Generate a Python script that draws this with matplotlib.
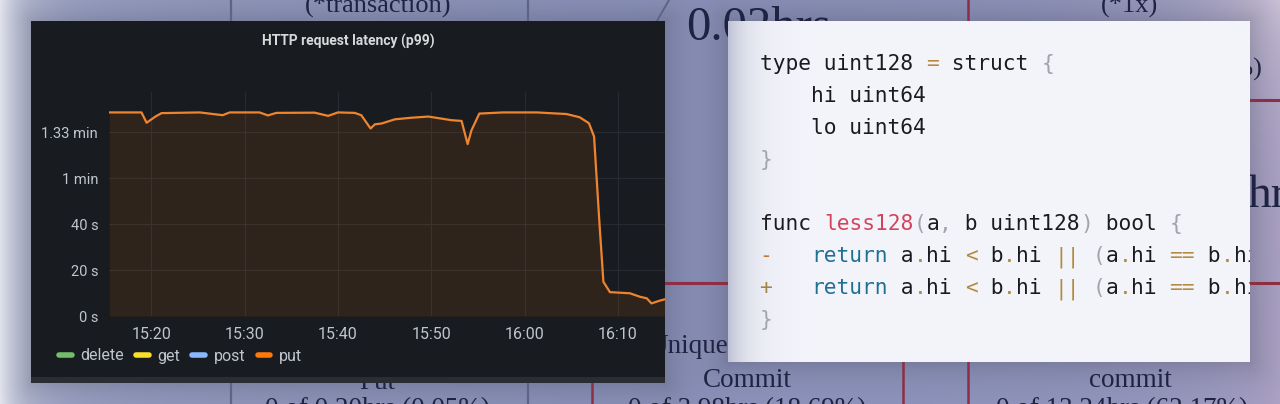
import numpy as np
import matplotlib
matplotlib.use("Agg")
import matplotlib.pyplot as plt
from matplotlib.lines import Line2D
from matplotlib.patches import Rectangle

# put p99 latency: minutes after 15:00 -> seconds
put_minutes = [15.5, 18.95, 19.5, 20.4, 21.1, 25.2, 27.65, 28.4, 31.6, 32.5,
               33.4, 37.5, 38.95, 40.0, 41.8, 42.5, 43.5, 43.95, 44.7, 46.1,
               47.9, 49.7, 51.1, 52.2, 53.25, 53.9, 54.3, 55.15, 57.7, 61.3,
               64.5, 65.9, 66.9, 67.45, 67.65, 68.05, 68.45, 69.15, 71.3, 72.35,
               73.1, 73.6, 74.5, 75.05]
put_seconds = [88.7, 88.7, 84.2, 86.8, 88.4, 88.7, 87.5, 88.7, 88.7, 87.4,
               88.5, 88.6, 87.2, 88.7, 88.5, 87.5, 81.7, 83.5, 83.9, 85.7,
               86.4, 86.9, 86.0, 85.3, 85.0, 74.9, 80.8, 88.2, 88.7, 88.7,
               88.0, 86.6, 84.0, 78.2, 65.0, 38.9, 14.9, 10.4, 9.9, 8.4,
               7.7, 5.5, 6.7, 7.3]

y_ticks = [0, 20, 40, 60, 80]
y_labels = ["0 s", "20 s", "40 s", "1 min", "1.33 min"]
x_ticks = [20, 30, 40, 50, 60, 70]
x_labels = ["15:20", "15:30", "15:40", "15:50", "16:00", "16:10"]
series_names = ["delete", "get", "post", "put"]
series_colors = ["#73bf69", "#fade2a", "#8ab8ff", "#ff780a"]

# code snippet, split into (text, colour) tokens
K = "#1b1b1f"; G = "#a3a3ab"; O = "#b5893f"; T = "#1f6f93"; R = "#d2445e"
ret = [("return", T), (" a", K), (".", O), ("hi ", K), ("<", O), (" b", K), (".", O),
       ("hi ", K), ("||", O), (" ", K), ("(", G), ("a", K), (".", O), ("hi ", K),
       ("==", O), (" b", K), (".", O), ("hi && a", K), (".", O), ("lo ", K)]
code_lines = [
    [("type uint128 ", K), ("=", O), (" struct ", K), ("{", G)],
    [("    hi uint64", K)],
    [("    lo uint64", K)],
    [("}", G)],
    [],
    [("func ", K), ("less128", R), ("(", G), ("a", K), (",", G), (" b uint128", K),
     (")", G), (" bool ", K), ("{", G)],
    [("-   ", "#b97a3a")] + ret + [("<=", O), (" b", K), (".", O), ("lo", K), (")", G)],
    [("+   ", "#a0844a")] + ret + [("<", O), (" b", K), (".", O), ("lo", K), (")", G)],
    [("}", G)],
]

W, H = 1280, 404
fig = plt.figure(figsize=(W / 100, H / 100), dpi=100)

# ---- blurred table in the background
bg = fig.add_axes([0, 0, 1, 1], zorder=0)
bg.set_xlim(0, W)
bg.set_ylim(H, 0)
bg.axis("off")

yy, xx = np.mgrid[0:H, 0:W].astype(float) + 0.5
img = np.ones((H, W, 3)) * np.array([136, 145, 188]) / 255


def mix(im, col, a):
    col = np.array(col) / 255
    return im * (1 - a[..., None]) + col * a[..., None]


img = mix(img, [236, 238, 246], 0.75 * np.exp(-xx / 26) + 0.24 * np.exp(-xx / 330))
img = mix(img, [190, 172, 204], 0.45 * np.exp(-(W - xx) / 70) + 0.25 * np.exp(-(W - xx) / 500))
img = mix(img, [232, 222, 236], 0.6 * np.exp(-np.hypot(W - xx, yy) / 70))
for x0, y0, x1, y1 in [(31, 21, 665, 383), (728, 21, 1250, 362)]:
    dx = np.maximum(np.maximum(x0 - xx, xx - x1), 0)
    dy = np.maximum(np.maximum(y0 - yy, yy - y1), 0)
    img = img * (1 - 0.16 * np.exp(-np.hypot(dx, dy) / 22))[..., None]
bg.imshow(img, extent=[0, W, H, 0], aspect="auto", zorder=0)

gray_line = "#5d6486"
red_line = "#8e2e45"
bg.plot([231, 231], [0, H], color=gray_line, lw=1.6, zorder=1)
bg.plot([528, 528], [0, H], color=gray_line, lw=1.6, zorder=1)
bg.plot([669, 657], [0, 21], color=gray_line, lw=1.4, zorder=1)
bg.plot([592, 592], [283, H], color=red_line, lw=1.8, zorder=1)
bg.plot([903, 903], [283, H], color=red_line, lw=1.8, zorder=1)
bg.plot([968, 968], [0, H], color=red_line, lw=1.8, zorder=1)
bg.plot([592, W], [283, 283], color=red_line, lw=2.2, zorder=1)
bg.plot([968, W], [100, 100], color=red_line, lw=2.2, zorder=1)

serif = dict(family="Liberation Serif", color="#1e2342", zorder=2)
bg.text(378, 13, "(*transaction)", ha="center", va="baseline", fontsize=19, **serif)
bg.text(686, 40, "0.02hrs", ha="left", va="baseline", fontsize=35, **serif)
bg.text(1130, 13, "(*1x)", ha="center", va="baseline", fontsize=19, **serif)
bg.text(1263, 76, "(99.95%)", ha="right", va="baseline", fontsize=19, **serif)
bg.text(1248, 207, "hrs", ha="left", va="baseline", fontsize=34, **serif)
bg.text(728, 353, "Unique", ha="right", va="baseline", fontsize=19.5, **serif)
bg.text(747, 387, "Commit", ha="center", va="baseline", fontsize=19.5, **serif)
bg.text(1130, 387, "commit", ha="center", va="baseline", fontsize=19.5, **serif)
bg.text(377, 389, "Put", ha="center", va="baseline", fontsize=19.5, **serif)
bg.text(377, 416, "0 of 0.20hrs (0.05%)", ha="center", va="baseline", fontsize=19.5, **serif)
bg.text(747, 416, "0 of 3.98hrs (18.69%)", ha="center", va="baseline", fontsize=19.5, **serif)
bg.text(1122, 416, "0 of 13.24hrs (62.17%)", ha="center", va="baseline", fontsize=19.5, **serif)

# grafana panel
bg.add_patch(Rectangle((31, 21), 634, 362, facecolor="#181b1f", edgecolor="none", zorder=5))
bg.add_patch(Rectangle((31, 377), 634, 6, facecolor="#2a2d34", edgecolor="none", zorder=5))

# ---- latency chart
ax = fig.add_axes([109.3 / W, (H - 316) / H, (665 - 109.3) / W, 224 / H], zorder=2)
ax.set_facecolor("#181b1f")
ax.fill_between(put_minutes, put_seconds, 0, color="#ff780a", alpha=0.1, lw=0)
ax.plot(put_minutes, put_seconds, color="#ee852e", lw=1.6, solid_joinstyle="round")
ax.set_xlim(15.5, 75.05)
ax.set_ylim(0, 97.6)
ax.set_xticks(x_ticks)
ax.set_xticklabels(x_labels)
ax.set_yticks(y_ticks)
ax.set_yticklabels(y_labels)
ax.grid(True, color="#272a30", lw=0.9)
ax.set_axisbelow(True)
for s in ax.spines.values():
    s.set_visible(False)
ax.tick_params(length=0, colors="#c0c6ce", labelsize=10.5, pad=8)
ax.tick_params(axis="x", pad=8, labelsize=11.5)
for lab in ax.get_xticklabels() + ax.get_yticklabels():
    lab.set_family("Roboto")

fig.text(348 / W, 1 - 41 / H, "HTTP request latency (p99)", ha="center", va="center",
         fontsize=10, weight="bold", color="#d8d9da", family="Roboto", zorder=6)

handles = [Line2D([], [], color=c, lw=4, solid_capstyle="round") for c in series_colors]
fig.legend(handles, series_names, loc="center left", bbox_to_anchor=(59 / W, 1 - 356 / H),
           ncol=4, frameon=False, handlelength=0.8, handletextpad=0.55, columnspacing=0.75,
           borderpad=0, borderaxespad=0, prop={"family": "Roboto", "size": 11.5},
           labelcolor="#c0c6ce")

# ---- code snippet panel
cx = fig.add_axes([728 / W, (H - 362) / H, 522 / W, 341 / H], zorder=3)
cx.set_xlim(0, 522)
cx.set_ylim(341, 0)
cx.axis("off")
grad = np.linspace(0, 522, 522)
shade = np.exp(-grad / 20)[None, :, None]
panel = np.array([244, 245, 251]) / 255 * (1 - shade) + np.array([190, 194, 212]) / 255 * shade
cx.imshow(np.repeat(panel, 2, axis=0), extent=[0, 522, 341, 0], aspect="auto", zorder=0)

char_w = 12.8
for i, toks in enumerate(code_lines):
    base = 49 + 32 * i
    col = 0
    for txt, c in toks:
        cx.text(32 + col * char_w, base, txt, color=c, family="DejaVu Sans Mono",
                fontsize=15.3, va="baseline", ha="left", clip_on=True, zorder=2)
        col += len(txt)

fig.savefig("out.png", dpi=100)
